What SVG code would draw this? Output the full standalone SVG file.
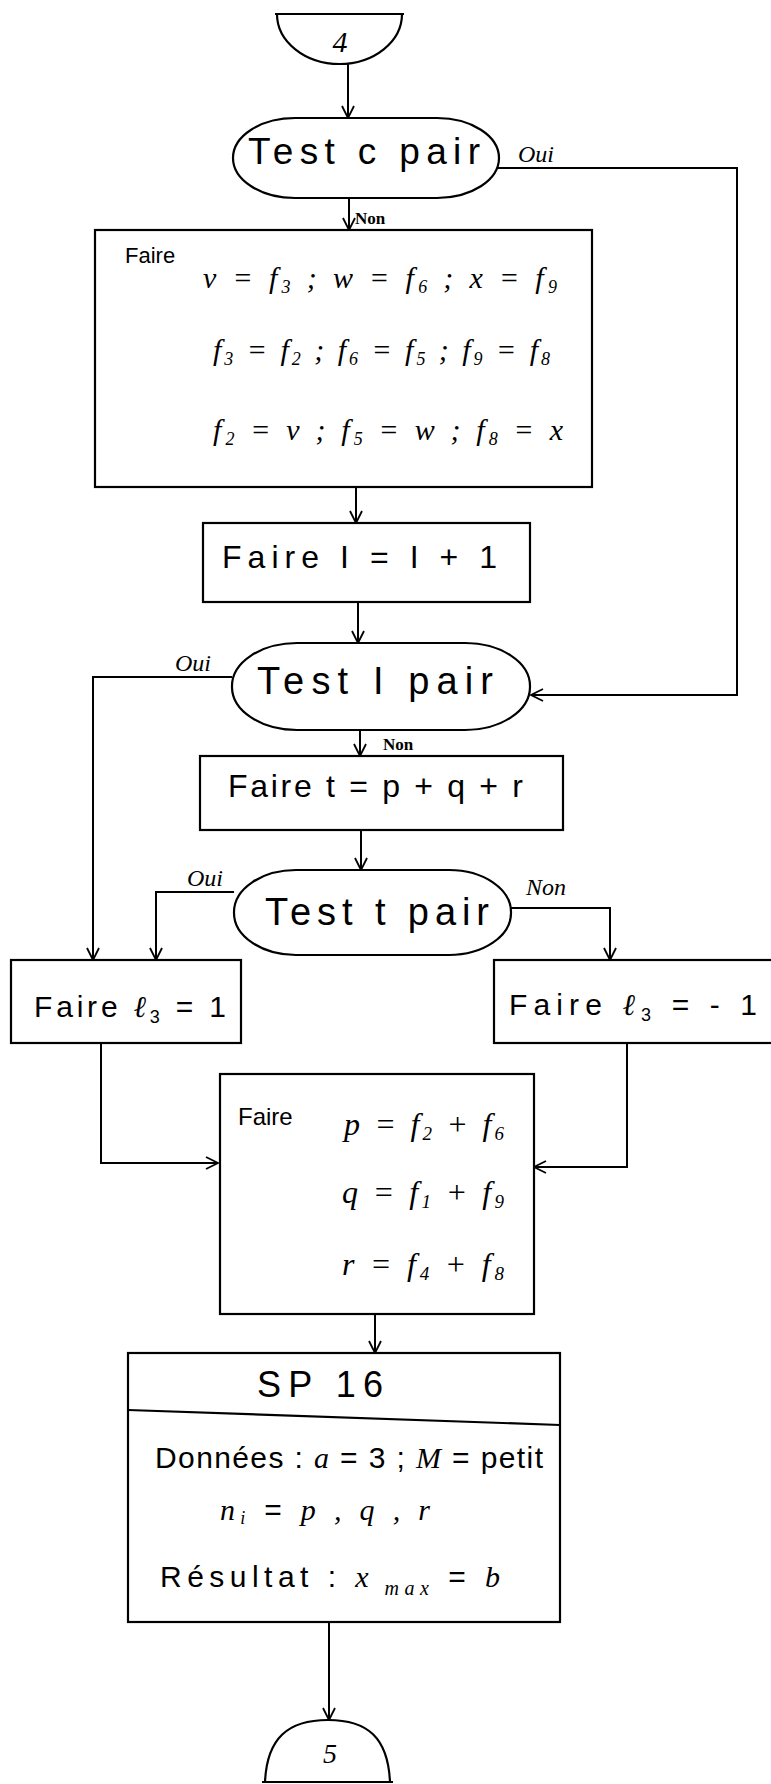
<svg xmlns="http://www.w3.org/2000/svg" width="771" height="1784" viewBox="0 0 771 1784">
<style>
.s{fill:none;stroke:#000;stroke-width:2.2}
.c{fill:none;stroke:#000;stroke-width:2}
text{font-family:"Liberation Sans",Arial,sans-serif;fill:#000}
.m{font-family:"Liberation Serif","Times New Roman",serif;font-style:italic}
.lab{font-family:"Liberation Serif","Times New Roman",serif;font-style:italic;font-size:24px}
.non{font-family:"Liberation Serif","Times New Roman",serif;font-weight:bold;font-size:17px}
</style>
<defs>
<marker id="arr" viewBox="0 0 14 14" refX="13" refY="7" markerWidth="14" markerHeight="14" markerUnits="userSpaceOnUse" orient="auto">
<path d="M1,1 L13,7 L1,13" fill="none" stroke="#000" stroke-width="1.8"/>
</marker>
</defs>
<rect width="771" height="1784" fill="#fff"/>

<g id="connectors">
<path class="c" d="M348,64 L348,118" marker-end="url(#arr)"/>
<path class="c" d="M349,198 L349,230" marker-end="url(#arr)"/>
<path class="c" d="M498,168 L737,168 L737,695 L531,695" marker-end="url(#arr)"/>
<path class="c" d="M356,487 L356,523" marker-end="url(#arr)"/>
<path class="c" d="M358,602 L358,643" marker-end="url(#arr)"/>
<path class="c" d="M232,677 L93,677 L93,960" marker-end="url(#arr)"/>
<path class="c" d="M360,730 L360,756" marker-end="url(#arr)"/>
<path class="c" d="M361,830 L361,870" marker-end="url(#arr)"/>
<path class="c" d="M234,892 L156,892 L156,960" marker-end="url(#arr)"/>
<path class="c" d="M511,908 L610,908 L610,960" marker-end="url(#arr)"/>
<path class="c" d="M101,1043 L101,1163 L218,1163" marker-end="url(#arr)"/>
<path class="c" d="M627,1043 L627,1167 L534,1167" marker-end="url(#arr)"/>
<path class="c" d="M375,1314 L375,1353" marker-end="url(#arr)"/>
<path class="c" d="M329,1622 L329,1720" marker-end="url(#arr)"/>
<text class="lab" x="518" y="162">Oui</text>
<text class="non" x="355" y="224">Non</text>
<text class="lab" x="175" y="671">Oui</text>
<text class="non" x="383" y="750">Non</text>
<text class="lab" x="187" y="886">Oui</text>
<text class="lab" x="526" y="895">Non</text>
</g>

<g id="n4">
<path class="s" d="M275,14 L404,14 M277,14 A62.5,50 0 0 0 402,14"/>
<text x="340" y="52" font-size="30" text-anchor="middle" class="m">4</text>
</g>

<g id="testC">
<rect class="s" x="233" y="118" width="266" height="80" rx="62" ry="40"/>
<text x="248" y="164" font-size="37" textLength="232" lengthAdjust="spacing">Test c pair</text>
</g>

<g id="box1">
<rect class="s" x="95" y="230" width="497" height="257"/>
<text x="125" y="263" font-size="22">Faire</text>
<text x="203" y="288" font-size="30" class="m" textLength="354" lengthAdjust="spacing">v = f<tspan font-size="18" dy="5">3</tspan><tspan dy="-5"> ; w = f</tspan><tspan font-size="18" dy="5">6</tspan><tspan dy="-5"> ; x = f</tspan><tspan font-size="18" dy="5">9</tspan></text>
<text x="213" y="360" font-size="30" class="m" textLength="337" lengthAdjust="spacing">f<tspan font-size="18" dy="5">3</tspan><tspan dy="-5"> = f</tspan><tspan font-size="18" dy="5">2</tspan><tspan dy="-5"> ; f</tspan><tspan font-size="18" dy="5">6</tspan><tspan dy="-5"> = f</tspan><tspan font-size="18" dy="5">5</tspan><tspan dy="-5"> ; f</tspan><tspan font-size="18" dy="5">9</tspan><tspan dy="-5"> = f</tspan><tspan font-size="18" dy="5">8</tspan></text>
<text x="213" y="440" font-size="30" class="m" textLength="350" lengthAdjust="spacing">f<tspan font-size="18" dy="5">2</tspan><tspan dy="-5"> = v ; f</tspan><tspan font-size="18" dy="5">5</tspan><tspan dy="-5"> = w ; f</tspan><tspan font-size="18" dy="5">8</tspan><tspan dy="-5"> = x</tspan></text>
</g>

<g id="box2">
<rect class="s" x="203" y="523" width="327" height="79"/>
<text x="222" y="568" font-size="32" textLength="275" lengthAdjust="spacing">Faire  I = I + 1</text>
</g>

<g id="testI">
<rect class="s" x="232" y="643" width="298" height="87" rx="65" ry="43"/>
<text x="257" y="694" font-size="38" textLength="236" lengthAdjust="spacing">Test I pair</text>
</g>

<g id="box3">
<rect class="s" x="200" y="756" width="363" height="74"/>
<text x="228" y="797" font-size="32" textLength="295" lengthAdjust="spacing">Faire  t = p + q + r</text>
</g>

<g id="testT">
<rect class="s" x="234" y="870" width="277" height="85" rx="62" ry="42"/>
<text x="265" y="925" font-size="38" textLength="224" lengthAdjust="spacing">Test t pair</text>
</g>

<g id="boxL1">
<rect class="s" x="11" y="960" width="230" height="83"/>
<text x="34" y="1017" font-size="30" textLength="192" lengthAdjust="spacing">Faire  <tspan class="m">ℓ</tspan><tspan font-size="18" dy="6">3</tspan><tspan dy="-6"> = 1</tspan></text>
</g>

<g id="boxLm1">
<rect class="s" x="494" y="960" width="300" height="83"/>
<text x="509" y="1015" font-size="30" textLength="248" lengthAdjust="spacing">Faire  <tspan class="m">ℓ</tspan><tspan font-size="18" dy="6">3</tspan><tspan dy="-6"> = - 1</tspan></text>
</g>

<g id="box4">
<rect class="s" x="220" y="1074" width="314" height="240"/>
<text x="238" y="1125" font-size="24">Faire</text>
<text x="344" y="1135" font-size="32" class="m" textLength="160" lengthAdjust="spacing">p = f<tspan font-size="19" dy="5">2</tspan><tspan dy="-5"> + f</tspan><tspan font-size="19" dy="5">6</tspan></text>
<text x="342" y="1203" font-size="32" class="m" textLength="162" lengthAdjust="spacing">q = f<tspan font-size="19" dy="5">1</tspan><tspan dy="-5"> + f</tspan><tspan font-size="19" dy="5">9</tspan></text>
<text x="342" y="1275" font-size="32" class="m" textLength="162" lengthAdjust="spacing">r = f<tspan font-size="19" dy="5">4</tspan><tspan dy="-5"> + f</tspan><tspan font-size="19" dy="5">8</tspan></text>
</g>

<g id="sp16">
<rect class="s" x="128" y="1353" width="432" height="269"/>
<path class="s" d="M128,1410 L560,1425"/>
<text x="257" y="1397" font-size="36" textLength="126" lengthAdjust="spacing">SP 16</text>
<text x="155" y="1468" font-size="30" textLength="388" lengthAdjust="spacing">Données : <tspan class="m">a</tspan> = 3 ; <tspan class="m">M</tspan> = petit</text>
<text x="220" y="1520" font-size="30" textLength="210" lengthAdjust="spacing"><tspan class="m">n</tspan><tspan font-size="18" dy="4" class="m">i</tspan><tspan dy="-4"> = </tspan><tspan class="m">p , q , r</tspan></text>
<text x="160" y="1587" font-size="30" textLength="340" lengthAdjust="spacing">Résultat :  <tspan class="m">x</tspan><tspan font-size="20" dy="8" class="m"> max</tspan><tspan dy="-8"> = </tspan><tspan class="m">b</tspan></text>
</g>

<g id="n5">
<path class="s" d="M262,1782 L393,1782 M265,1782 C267,1738 288,1720 328,1720 C368,1720 388,1738 390,1782"/>
<text x="330" y="1763" font-size="28" text-anchor="middle" class="m">5</text>
</g>
</svg>
